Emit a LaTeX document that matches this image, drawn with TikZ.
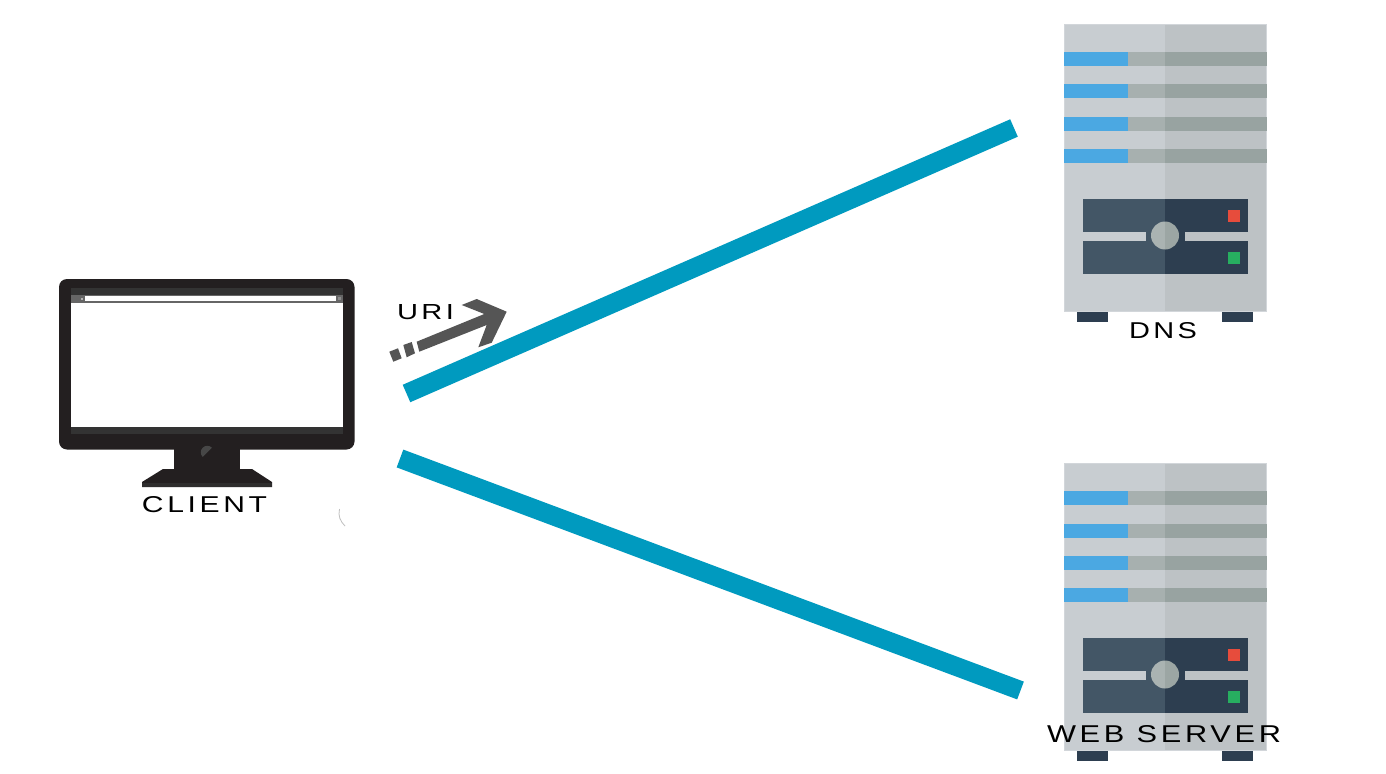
\documentclass[tikz,border=0pt]{standalone}
\usepackage{fontspec}
\setmainfont{Liberation Sans}
\newdimen\pxu \pxu=0.75pt
\newcommand{\fitlbl}[3]{\resizebox{#1\pxu}{#2\pxu}{\addfontfeatures{LetterSpace=12}#3}}
\definecolor{bodyL}{HTML}{C8CDD1}
\definecolor{bodyR}{HTML}{BDC2C5}
\definecolor{edgeC}{HTML}{D2D6DA}
\definecolor{ledBlue}{HTML}{4BA8E2}
\definecolor{slotL}{HTML}{A7B0AF}
\definecolor{slotR}{HTML}{98A3A1}
\definecolor{panelL}{HTML}{435666}
\definecolor{panelR}{HTML}{2D3E50}
\definecolor{knobL}{HTML}{AAB3B2}
\definecolor{knobR}{HTML}{9CA6A4}
\definecolor{ledRed}{HTML}{E74C3C}
\definecolor{ledGreen}{HTML}{27AE60}
\definecolor{wire}{HTML}{009ABF}
\definecolor{monFrame}{HTML}{231F20}
\definecolor{monBezel}{HTML}{333333}
\definecolor{arrowC}{HTML}{555555}
\tikzset{
  lbl/.style={inner sep=0pt,outer sep=0pt,text=black},
  linkline/.style={draw=wire,line width=14.25pt,line cap=butt},
  urimark/.style={fill=arrowC,draw=none},
  server/.pic={
    % feet
    \fill[panelR] (13,288) rectangle (44,298);
    \fill[panelR] (158,288) rectangle (189,298);
    % body
    \fill[bodyL] (0,0) rectangle (101,288);
    \fill[bodyR] (101,0) rectangle (203,288);
    \draw[edgeC,line width=0.75pt] (0.4,0.4) rectangle (202.6,287.6);
    % stripes
    \foreach \yy in {28,60.5,93,124.5}{
      \fill[ledBlue] (0,\yy) rectangle (64,\yy+14);
      \fill[slotL] (64,\yy) rectangle (101,\yy+14);
      \fill[slotR] (101,\yy) rectangle (203,\yy+14);
    }
    % panels
    \fill[panelL] (19,174.5) rectangle (101,208);
    \fill[panelR] (101,174.5) rectangle (183.5,208);
    \fill[panelL] (19,217) rectangle (101,250);
    \fill[panelR] (101,217) rectangle (183.5,250);
    \fill[panelL] (82,207) rectangle (101,218);
    \fill[panelR] (101,207) rectangle (121,218);
    % knob
    \begin{scope}
      \clip (87,197.5) rectangle (101,225.5);
      \fill[knobL] (101,211.5) circle[radius=14];
    \end{scope}
    \begin{scope}
      \clip (101,197.5) rectangle (115,225.5);
      \fill[knobR] (101,211.5) circle[radius=14];
    \end{scope}
    % leds
    \fill[ledRed] (164,186) rectangle (176,197.5);
    \fill[ledGreen] (164,228) rectangle (176,239.5);
  }
}
\begin{document}
\begin{tikzpicture}[x=0.75pt,y=-0.75pt]
\useasboundingbox (0,0) rectangle (1386,774);
\fill[white] (0,0) rectangle (1386,774);

% client monitor
\fill[monFrame] (174,445) rectangle (240,472);
\fill[monFrame,rounded corners=6pt] (59,279) rectangle (354.5,449.5);
\fill[monBezel] (71,288) rectangle (343,433.5);
\fill[white] (71,303) rectangle (343,427);
\fill[black!60] (71,295) rectangle (343,302.5);
\fill[white] (85,296) rectangle (336,301);
\fill[black!30] (81,297.5) rectangle (83,299.5);
\fill[black!45] (337.5,296.5) rectangle (341,300);
\fill[monFrame] (163,469) -- (252,469) -- (272,482) -- (272,487) -- (142,487) -- (142,482) -- cycle;
\fill[monBezel!70!monFrame] (142,483) rectangle (272,487);
\begin{scope}
  \clip (198,461.6) -- (216.6,443) -- (198,443) -- cycle;
  \fill[monBezel!90!white] (207.3,452.3) circle[radius=6.5];
\end{scope}
\draw[black!25,line width=0.6pt] (339.5,509) .. controls (338,516) and (340,521) .. (345,526);

% servers
\pic at (1064,24) {server};
\pic at (1064,463) {server};

% labels
\node[lbl] (client) at (204.5,505) {\fitlbl{125}{16}{CLIENT}};
\node[lbl] (dns) at (1163,331) {\fitlbl{68}{16}{DNS}};
\node[lbl] (web) at (1164,734.5) {\fitlbl{234}{17}{WEB SERVER}};
\node[lbl] (uri) at (425.5,312.5) {\fitlbl{57}{15}{URI}};

% connectors
\coordinate (clientA) at (406.5,393.5);
\coordinate (dnsA) at (1014,128);
\coordinate (clientB) at (400,458.5);
\coordinate (webA) at (1020.5,690.5);
\draw[linkline] (clientA) -- (dnsA);
\draw[linkline] (clientB) -- (webA);

% URI arrow
\fill[urimark] (416.7,341.7) -- (484.3,314) -- (461.7,305) -- (476.7,299) -- (506.7,311.7) -- (491.7,342.7) -- (478.3,347.3) -- (486.7,325) -- (419.3,351.7) -- cycle;
\fill[urimark] (403.3,345) -- (411.7,342) -- (415,353.3) -- (406.7,357.3) -- cycle;
\fill[urimark] (389.3,351.7) -- (398,348.3) -- (401.7,358.3) -- (393.3,361.7) -- cycle;
\end{tikzpicture}
\end{document}
